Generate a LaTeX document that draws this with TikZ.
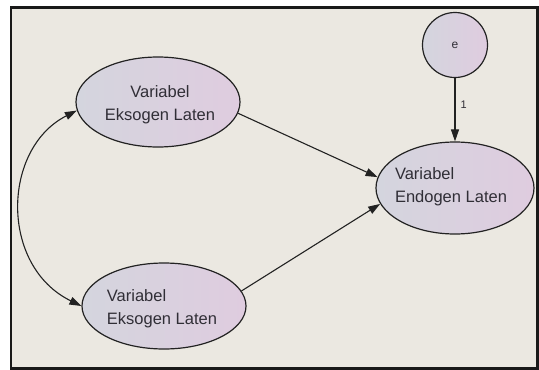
\documentclass[tikz,border=0pt]{standalone}
\usepackage{fontspec}
\setmainfont{Liberation Sans}
\usetikzlibrary{arrows.meta,shapes.geometric}

\definecolor{paper}{HTML}{EBE8E1}
\definecolor{fillL}{HTML}{D4D5DE}
\definecolor{fillR}{HTML}{DFCCDF}
\definecolor{ink}{HTML}{302E36}
\definecolor{edge}{HTML}{222222}

\begin{document}
\begin{tikzpicture}[x=1pt,y=-1pt,
  latent/.style={ellipse, draw=edge, line width=1.2pt,
                 left color=fillL, right color=fillR, inner sep=0pt},
  errvar/.style={circle, draw=edge, line width=1.2pt,
                 left color=fillL, right color=fillR, inner sep=0pt,
                 minimum size=65pt, font=\fontsize{12}{14}\selectfont, text=ink},
  lbl/.style={font=\fontsize{16.5}{23}\selectfont, text=ink, inner sep=0pt},
  weight/.style={font=\fontsize{11}{13}\selectfont, text=ink, inner sep=0pt},
  link/.style={draw=edge, line width=1.1pt, -{Triangle[length=12pt,width=8pt]}},
  covar/.style={draw=edge, line width=1.1pt,
                {Triangle[length=12pt,width=8pt]}-{Triangle[length=12pt,width=8pt]}},
]
% canvas and frame
\useasboundingbox (0,0) rectangle (539,370);
\fill[white] (0,0) rectangle (539,370);
\draw[line width=2.6pt, draw=black!90, fill=paper] (11,7.5) rectangle (537.5,368.5);

% latent variables
\node[latent, minimum width=164pt, minimum height=90pt] (ex1) at (158,102) {};
\node[latent, minimum width=164pt, minimum height=86pt] (ex2) at (164,306) {};
\node[latent, minimum width=158pt, minimum height=92pt] (en)  at (455,188) {};
\node[errvar] (err) at (455,45) {e};

% labels inside the ellipses
\node[lbl, align=center] (ex1t) at (160,105) {Variabel\\Eksogen Laten};
\node[lbl, align=left]   (ex2t) at (162,309) {Variabel\\Eksogen Laten};
\node[lbl, align=left]   (ent)  at (451,187) {Variabel\\Endogen Laten};

% structural paths
\draw[link] (ex1.-8) -- (en.172);
\draw[link] (ex2.11) -- (en.192);
\draw[link] (err) -- (en) node[weight, pos=0.42, right=5pt] (w1) {1};

% covariance between the exogenous variables
\draw[covar] (ex1.186) .. controls +(-75,38) and +(-82,-40) .. (ex2.180);
\end{tikzpicture}
\end{document}
